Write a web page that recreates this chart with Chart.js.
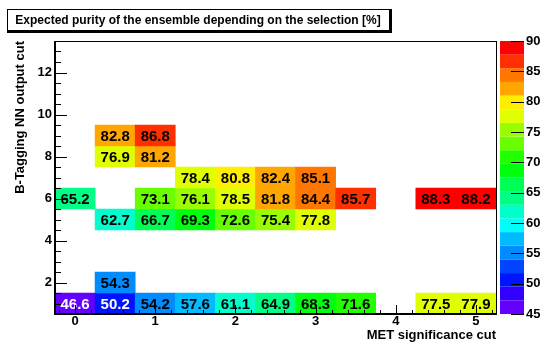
<!DOCTYPE html>
<html>
<head>
<meta charset="utf-8">
<script src="https://cdn.jsdelivr.net/npm/chart.js@4"></script>
<style>
  html, body { margin: 0; padding: 0; background: #fff; }
</style>
</head>
<body>
<canvas id="myChart" width="541" height="347"></canvas>
<script>
'use strict';
// MET significance cut (x bin centres) and B-tagging NN cut (y bin centres)
let metCuts = [0, 0.5, 1, 1.5, 2, 2.5, 3, 3.5, 4, 4.5, 5];
let nnCuts = [1, 2, 5, 6, 7, 8, 9];
// purity [%] per NN row, null = empty bin
let purityNN1 = [46.6, 50.2, 54.2, 57.6, 61.1, 64.9, 68.3, 71.6, null, 77.5, 77.9];
let purityNN2 = [null, 54.3, null, null, null, null, null, null, null, null, null];
let purityNN5 = [null, 62.7, 66.7, 69.3, 72.6, 75.4, 77.8, null, null, null, null];
let purityNN6 = [65.2, null, 73.1, 76.1, 78.5, 81.8, 84.4, 85.7, null, 88.3, 88.2];
let purityNN7 = [null, null, null, 78.4, 80.8, 82.4, 85.1, null, null, null, null];
let purityNN8 = [null, 76.9, 81.2, null, null, null, null, null, null, null, null];
let purityNN9 = [null, 82.8, 86.8, null, null, null, null, null, null, null, null];
let purityRows = [purityNN1, purityNN2, purityNN5, purityNN6, purityNN7, purityNN8, purityNN9];

let zMin = 45;
let zMax = 90;
let zContours = 20;
let zTicks = [45, 50, 55, 60, 65, 70, 75, 80, 85, 90];

// ROOT "pretty" palette: 50 hues from violet to red, 20 contour levels
function bandOf(v) {
    let k = Math.floor((v - zMin) / ((zMax - zMin) / zContours));
    return Math.min(zContours - 1, Math.max(0, k));
}
function bandColor(k) {
    let idx = Math.floor((k + 0.99) * 50 / zContours);
    let hue = 280 - (idx + 1) * 5.6;
    return 'hsl(' + hue + ',100%,50%)';
}

let cells = [];
for (let r = 0; r < nnCuts.length; r++) {
    for (let i = 0; i < metCuts.length; i++) {
        let v = purityRows[r][i];
        if (v === null) continue;
        cells.push({ x: metCuts[i], y: [nnCuts[r] - 0.5, nnCuts[r] + 0.5], v: v });
    }
}

Chart.defaults.font.family = '"Liberation Sans", Arial, sans-serif';
Chart.defaults.color = '#000';

let rootStyle = {
    id: 'rootStyle',
    afterDatasetsDraw(chart) {
        let ctx = chart.ctx;
        let area = chart.chartArea;
        let xs = chart.scales.x, ys = chart.scales.y;
        let meta = chart.getDatasetMeta(0);

        // bin contents
        ctx.save();
        ctx.font = 'bold 15px "Liberation Sans", Arial, sans-serif';
        ctx.textAlign = 'center';
        ctx.textBaseline = 'middle';
        meta.data.forEach(function (bar, i) {
            let v = chart.data.datasets[0].data[i].v;
            ctx.fillStyle = bandOf(v) <= 2 ? '#fff' : '#000';
            ctx.fillText(v.toFixed(1), bar.x, (bar.y + bar.base) / 2 + 1);
        });
        ctx.restore();

        // frame
        ctx.save();
        ctx.strokeStyle = '#000';
        ctx.lineWidth = 1;
        ctx.strokeRect(Math.round(area.left) + 0.5, Math.round(area.top) + 0.5,
            Math.round(area.right - area.left), Math.round(area.bottom - area.top));
        ctx.lineWidth = 2;
        ctx.beginPath();
        ctx.moveTo(Math.round(area.left), area.top);
        ctx.lineTo(Math.round(area.left), Math.round(area.bottom));
        ctx.lineTo(area.right, Math.round(area.bottom));
        ctx.stroke();

        // ticks, ROOT style (inside)
        ctx.lineWidth = 1;
        ctx.beginPath();
        for (let t = -0.2; t <= 5.21; t += 0.2) {
            let px = Math.round(xs.getPixelForValue(t)) + 0.5;
            let major = Math.abs(t - Math.round(t)) < 0.01;
            ctx.moveTo(px, area.bottom);
            ctx.lineTo(px, area.bottom - (major ? 9 : 4));
        }
        for (let t = 1; t <= 13.01; t += 0.5) {
            let py = Math.round(ys.getPixelForValue(t)) + 0.5;
            let major = Math.abs(t / 2 - Math.round(t / 2)) < 0.01;
            ctx.moveTo(area.left, py);
            ctx.lineTo(area.left + (major ? 12 : 6), py);
        }
        ctx.stroke();
        ctx.restore();
    },
    afterDraw(chart) {
        let ctx = chart.ctx;
        let area = chart.chartArea;
        let zs = chart.scales.z;

        // palette
        let bx = area.right + 4, bw = 24;
        let step = (zMax - zMin) / zContours;
        for (let k = 0; k < zContours; k++) {
            let y1 = zs.getPixelForValue(zMin + (k + 1) * step);
            let y2 = zs.getPixelForValue(zMin + k * step);
            ctx.fillStyle = bandColor(k);
            ctx.fillRect(bx, y1, bw, y2 - y1);
        }
        ctx.save();
        ctx.strokeStyle = '#000';
        ctx.lineWidth = 1;
        ctx.beginPath();
        zTicks.forEach(function (t) {
            let py = Math.round(zs.getPixelForValue(t)) + 0.5;
            ctx.moveTo(bx + bw, py);
            ctx.lineTo(bx + bw - 13, py);
        });
        ctx.stroke();

        // title box
        ctx.fillStyle = '#000';
        ctx.fillRect(7, 9, 385, 24);
        ctx.fillStyle = '#fff';
        ctx.fillRect(8, 10, 381, 20);
        ctx.fillStyle = '#000';
        ctx.font = 'bold 12px "Liberation Sans", Arial, sans-serif';
        ctx.textAlign = 'center';
        ctx.textBaseline = 'middle';
        ctx.fillText('Expected purity of the ensemble depending on the selection [%]', 198, 20.5);
        ctx.restore();
    }
};

let ctx = document.getElementById('myChart').getContext('2d');
let myChart = new Chart(ctx, {
    type: 'bar',
    data: {
        datasets: [{
            label: 'purity',
            data: cells,
            backgroundColor: function (c) { return c.raw ? bandColor(bandOf(c.raw.v)) : '#fff'; },
            borderWidth: 0,
            barPercentage: 1,
            categoryPercentage: 1
        }]
    },
    options: {
        responsive: false,
        animation: false,
        events: [],
        layout: { padding: { top: 41, left: 0, right: 0, bottom: 0 } },
        plugins: { legend: { display: false }, tooltip: { enabled: false } },
        scales: {
            x: {
                type: 'linear', min: -0.25, max: 5.25, offset: false,
                grid: { display: false, drawTicks: false }, border: { display: false },
                ticks: { stepSize: 1, includeBounds: false, padding: 0, font: { size: 13, weight: 'bold' } },
                title: { display: true, text: 'MET significance cut', align: 'end',
                    font: { size: 13, weight: 'bold' }, padding: { top: 0, bottom: 4 } },
                afterFit: function (s) { s.height = 33; }
            },
            y: {
                type: 'linear', min: 0.5, max: 13.5,
                grid: { display: false, drawTicks: false }, border: { display: false },
                ticks: { stepSize: 2, includeBounds: false, padding: 3, font: { size: 13, weight: 'bold' } },
                title: { display: true, text: 'B-Tagging NN output cut', align: 'end',
                    font: { size: 13, weight: 'bold' }, padding: { top: 13, bottom: 0 } },
                afterFit: function (s) { s.width = 55; s.paddingTop = 0; s.paddingBottom = 0; }
            },
            z: {
                type: 'linear', position: 'right', min: zMin, max: zMax,
                grid: { display: false, drawTicks: false }, border: { display: false },
                ticks: { stepSize: 5, includeBounds: false, padding: 30, font: { size: 13, weight: 'bold' } },
                afterFit: function (s) { s.width = 45; s.paddingTop = 0; s.paddingBottom = 0; }
            }
        }
    },
    plugins: [rootStyle]
});
</script>
</body>
</html>
